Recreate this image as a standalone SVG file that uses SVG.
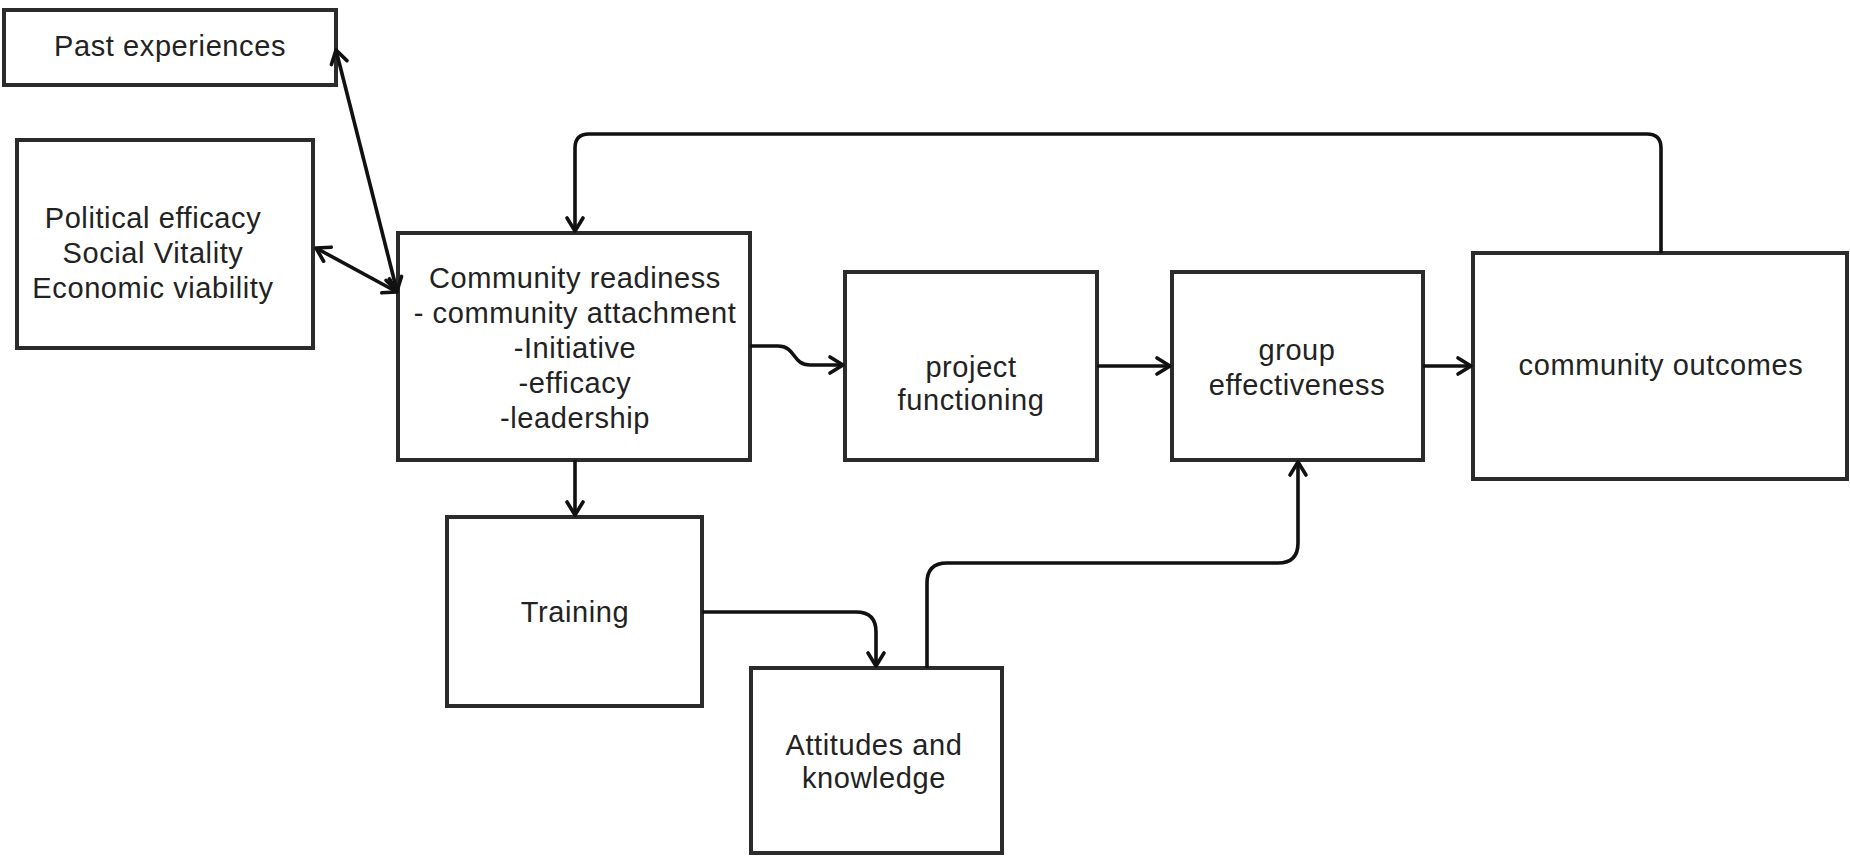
<svg xmlns="http://www.w3.org/2000/svg" width="1850" height="856" viewBox="0 0 1850 856">
<style>
.box{fill:#fff;stroke:#2b2b2b;stroke-width:4}
.t{font-family:"Liberation Sans",Arial,sans-serif;font-size:29px;fill:#222;text-anchor:middle;letter-spacing:0.6px}
.c{fill:none;stroke:#111;stroke-width:3.6;stroke-linejoin:round}
</style>
<defs>
<marker id="ah" viewBox="-16 -11 19 22" refX="0" refY="0" markerWidth="19" markerHeight="22" markerUnits="userSpaceOnUse" orient="auto-start-reverse">
<path d="M-13,-8 L0,0 L-13,8" fill="none" stroke="#111" stroke-width="3.6" stroke-linecap="round" stroke-linejoin="round"/>
</marker>
</defs>
<rect width="1850" height="856" fill="#fff"/>
<g id="past">
<rect class="box" x="4" y="10" width="332" height="75"/>
<text class="t" x="170" y="56">Past experiences</text>
</g>
<g id="political">
<rect class="box" x="17" y="140" width="296" height="208"/>
<text class="t" x="153" y="228">Political efficacy</text>
<text class="t" x="153" y="263">Social Vitality</text>
<text class="t" x="153" y="298">Economic viability</text>
</g>
<g id="readiness">
<rect class="box" x="398" y="233" width="352" height="227"/>
<text class="t" x="575" y="288">Community readiness</text>
<text class="t" x="575" y="323">- community attachment</text>
<text class="t" x="575" y="358">-Initiative</text>
<text class="t" x="575" y="393">-efficacy</text>
<text class="t" x="575" y="428">-leadership</text>
</g>
<g id="project">
<rect class="box" x="845" y="272" width="252" height="188"/>
<text class="t" x="971" y="377">project</text>
<text class="t" x="971" y="410">functioning</text>
</g>
<g id="group">
<rect class="box" x="1172" y="272" width="251" height="188"/>
<text class="t" x="1297" y="360">group</text>
<text class="t" x="1297" y="395">effectiveness</text>
</g>
<g id="outcomes">
<rect class="box" x="1473" y="253" width="374" height="226"/>
<text class="t" x="1661" y="375">community outcomes</text>
</g>
<g id="training">
<rect class="box" x="447" y="517" width="255" height="189"/>
<text class="t" x="575" y="622">Training</text>
</g>
<g id="attitudes">
<rect class="box" x="751" y="668" width="251" height="185"/>
<text class="t" x="874" y="755">Attitudes and</text>
<text class="t" x="874" y="788">knowledge</text>
</g>
<g id="connectors">
<path class="c" d="M336,50 L397,291" marker-start="url(#ah)" marker-end="url(#ah)"/>
<path class="c" d="M316,248 L397,292" marker-start="url(#ah)" marker-end="url(#ah)"/>
<path class="c" d="M1661,253 V148 Q1661,134 1647,134 H589 Q575,134 575,148 V231" marker-end="url(#ah)"/>
<path class="c" d="M750,346 H778 C796,346 792,365 810,365 H843" marker-end="url(#ah)"/>
<path class="c" d="M1097,366 H1170" marker-end="url(#ah)"/>
<path class="c" d="M1423,366 H1471" marker-end="url(#ah)"/>
<path class="c" d="M575,460 V515" marker-end="url(#ah)"/>
<path class="c" d="M702,612 H856 Q876,612 876,632 V666" marker-end="url(#ah)"/>
<path class="c" d="M927,668 V583 Q927,563 947,563 H1278 Q1298,563 1298,543 V462" marker-end="url(#ah)"/>
</g>
</svg>
